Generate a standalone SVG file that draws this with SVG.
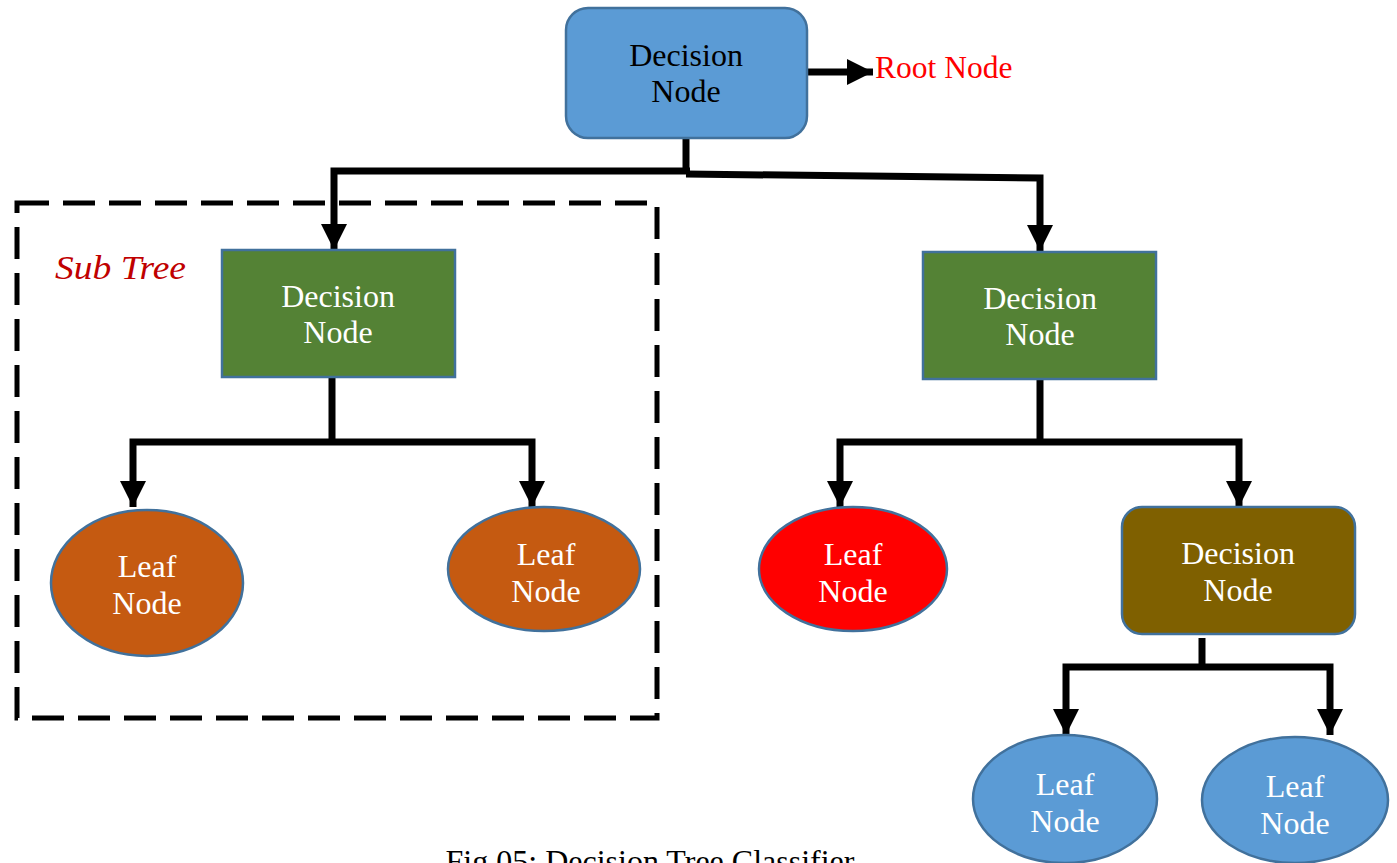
<svg xmlns="http://www.w3.org/2000/svg" width="1397" height="863" viewBox="0 0 1397 863">
<defs>
<marker id="ah" markerUnits="userSpaceOnUse" markerWidth="26" markerHeight="26" viewBox="0 0 26 26" refX="26" refY="13" orient="auto">
<path d="M0,0 L26,13 L0,26 z" fill="#000"/>
</marker>
<style>
.t{font-family:"Liberation Serif","Times New Roman",serif;font-size:32px;text-anchor:middle}
.w{fill:#fff}
.b{fill:#000}
.c{fill:none;stroke:#000;stroke-width:7;stroke-linejoin:miter}
.n{stroke:#41719C;stroke-width:2.5}
</style>
</defs>
<rect width="1397" height="863" fill="#fff"/>
<g id="subtree-box">
<rect x="17" y="203" width="640" height="515" fill="none" stroke="#000" stroke-width="5" stroke-dasharray="32 14"/>
<text x="55" y="279" font-family="'Liberation Serif','Times New Roman',serif" font-style="italic" font-size="33" fill="#C00000" textLength="131" lengthAdjust="spacingAndGlyphs">Sub Tree</text>
</g>
<g id="connectors">
<path class="c" d="M808,72 H873" stroke-width="9" marker-end="url(#ah)"/>
<path class="c" d="M686,138 V174"/>
<path class="c" d="M690,171 H334 V250" marker-end="url(#ah)"/>
<path class="c" d="M686,174 L1040,178 V251" marker-end="url(#ah)"/>
<path class="c" d="M332,377 V442"/>
<path class="c" d="M332,442 H133 V507" marker-end="url(#ah)"/>
<path class="c" d="M332,442 H532 V507" marker-end="url(#ah)"/>
<path class="c" d="M1040,379 V442"/>
<path class="c" d="M1040,442 H840 V507" marker-end="url(#ah)"/>
<path class="c" d="M1040,442 H1239 V507" marker-end="url(#ah)"/>
<path class="c" d="M1202,638 V668"/>
<path class="c" d="M1202,667 H1066 V735" marker-end="url(#ah)"/>
<path class="c" d="M1202,667 H1330 V735" marker-end="url(#ah)"/>
</g>
<g id="root">
<rect class="n" x="566" y="8" width="241" height="130" rx="22" fill="#5B9BD5"/>
<text class="t b" x="686" y="66">Decision</text>
<text class="t b" x="686" y="102">Node</text>
<text x="875" y="78" font-family="'Liberation Serif','Times New Roman',serif" font-size="31.5" fill="#FF0000">Root Node</text>
</g>
<g id="decision-left">
<rect class="n" x="222" y="250" width="233" height="127" fill="#548235"/>
<text class="t w" x="338" y="307">Decision</text>
<text class="t w" x="338" y="343">Node</text>
</g>
<g id="decision-right">
<rect class="n" x="923" y="252" width="233" height="127" fill="#548235"/>
<text class="t w" x="1040" y="309">Decision</text>
<text class="t w" x="1040" y="345">Node</text>
</g>
<g id="leaf-1">
<ellipse class="n" cx="147" cy="583" rx="96" ry="73" fill="#C55A11"/>
<text class="t w" x="147" y="577">Leaf</text>
<text class="t w" x="147" y="614">Node</text>
</g>
<g id="leaf-2">
<ellipse class="n" cx="544" cy="569" rx="96" ry="62" fill="#C55A11"/>
<text class="t w" x="546" y="565">Leaf</text>
<text class="t w" x="546" y="602">Node</text>
</g>
<g id="leaf-3">
<ellipse class="n" cx="853" cy="569" rx="94" ry="62" fill="#FF0000"/>
<text class="t w" x="853" y="565">Leaf</text>
<text class="t w" x="853" y="602">Node</text>
</g>
<g id="decision-3">
<rect class="n" x="1122" y="507" width="233" height="127" rx="20" fill="#7F6000"/>
<text class="t w" x="1238" y="564">Decision</text>
<text class="t w" x="1238" y="601">Node</text>
</g>
<g id="leaf-4">
<ellipse class="n" cx="1065" cy="799" rx="92" ry="64" fill="#5B9BD5"/>
<text class="t w" x="1065" y="795">Leaf</text>
<text class="t w" x="1065" y="832">Node</text>
</g>
<g id="leaf-5">
<ellipse class="n" cx="1295" cy="800" rx="93" ry="63" fill="#5B9BD5"/>
<text class="t w" x="1295" y="797">Leaf</text>
<text class="t w" x="1295" y="834">Node</text>
</g>
<text id="caption" x="650" y="872" font-family="'Liberation Serif','Times New Roman',serif" font-size="32" text-anchor="middle" fill="#000">Fig 05: Decision Tree Classifier</text>
</svg>
